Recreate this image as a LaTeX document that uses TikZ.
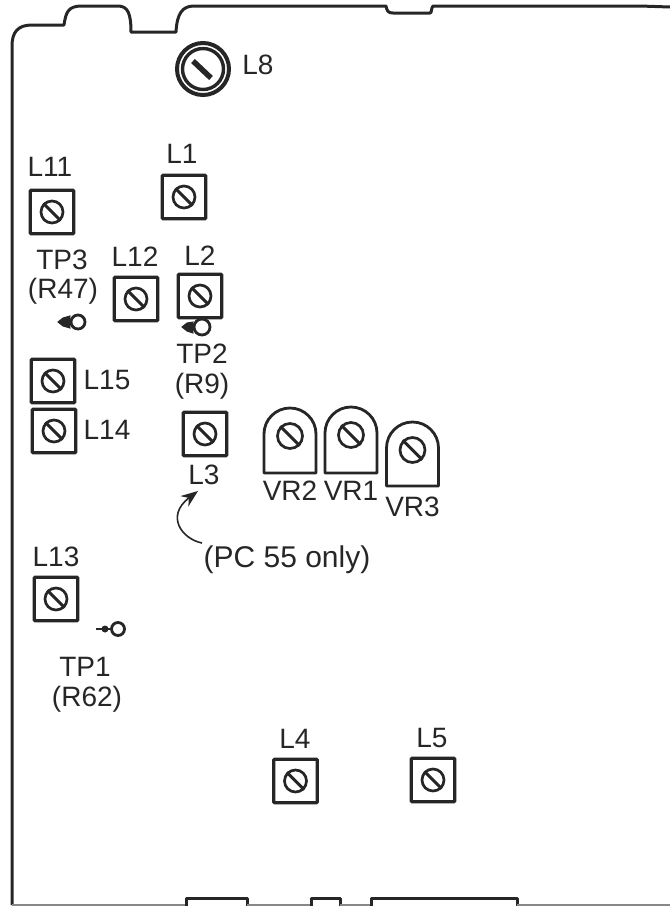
\documentclass[tikz,border=0pt]{standalone}
\usepackage{fontspec}
\setmainfont{Liberation Sans}
\usetikzlibrary{arrows.meta}
\definecolor{ink}{HTML}{262626}
\begin{document}
\begin{tikzpicture}[x=1pt,y=-1pt,
        board/.style={draw=ink, line width=3pt, line join=round},
        coilbox/.style={draw=ink, line width=3.4pt, rounded corners=1pt, minimum width=43.5pt, minimum height=43.5pt, inner sep=0pt},
        screw/.style={circle, draw=ink, line width=2.7pt, minimum size=22pt, inner sep=0pt},
        slot/.style={draw=ink, line width=3pt},
        pot/.style={draw=ink, line width=2.8pt, line join=round},
        ring/.style={circle, draw=ink, line width=2.8pt, inner sep=0pt},
        probe/.style={ink, fill=ink, line width=1pt},
        lbl/.style={text=ink, inner sep=0pt, font=\fontsize{28}{30}\selectfont},
        pcarrow/.style={draw=ink, line width=1.6pt, -{Stealth[length=17pt,width=13pt]}}]
        \useasboundingbox (0,0) rectangle (670,906);
        % board outline
        \draw[board] (12,905) -- (12,46) .. controls (12,32) and (18,25) .. (32,25) -- (64,25)
            .. controls (66,12) and (68,6) .. (82,6) -- (118,6) .. controls (128,6) and (131,14) .. (131,32)
            -- (176,32) .. controls (177,14) and (182,6) .. (194,6) -- (386,6)
            .. controls (387,11) and (388,13) .. (393,13) -- (430,13) .. controls (432,13) and (431,8) .. (433,6)
            -- (640,6) -- (670,7);
        \draw[board, line width=1.6pt, draw=ink!55] (12,905) -- (186,905);
        \draw[board] (186,906) -- (186,898) -- (247,898) -- (247,906);
        \draw[board, line width=1.6pt, draw=ink!55] (247,905) -- (311,905);
        \draw[board] (311,906) -- (311,898) -- (340,898) -- (340,906);
        \draw[board, line width=1.6pt, draw=ink!55] (340,905) -- (371,905);
        \draw[board] (371,906) -- (371,898) -- (517,898) -- (517,906);
        \draw[board, line width=1.6pt, draw=ink!55] (517,905) -- (670,905);
        % L8
        \node[circle, draw=ink, line width=4pt, minimum size=52pt, inner sep=0pt] (coilE) at (203,69) {};
        \node[circle, draw=ink, line width=3.4pt, minimum size=41pt, inner sep=0pt] (coilEin) at (203,69) {};
        \draw[slot, line width=5.5pt] (193,61) -- (211,78);
        \node[lbl] (labE) at (258,65) {L8};
        % coils
        \foreach \name/\x/\y in {A/184/197, K/52/212, M/136/299, B/200/296, P/53/381, O/54/431, C/205/434, N/56/599, D/295.5/781, F/433/780} {
            \node[coilbox] (coil\name) at (\x,\y) {};
            \node[screw] (screw\name) at (\x,\y) {};
            \draw[slot] (screw\name.135) -- (screw\name.-45);
        }
        \foreach \name/\x/\y/\txt in {A/182/154/L1, K/50/167/L11, M/135/257/L12, B/200/256/L2, P/107/380/L15, O/107/430/L14, C/204/475/L3, N/56/557/L13, D/295/739/L4, F/432/738/L5} {
            \node[lbl] (lab\name) at (\x,\y) {\txt};
        }
        % trimmers
        \foreach \name/\x/\y/\ytop/\ybot/\txt/\ylab in {two/290/434/408/473/VR2/491, one/351/434/407/473/VR1/491, three/412.5/448/422/486/VR3/507} {
            \draw[pot] (\x-26,\ybot) -- (\x-26,\ytop+26) arc[start angle=180, end angle=0, x radius=26, y radius=-26] -- (\x+26,\ybot) -- cycle;
            \node[screw, minimum size=25pt] (vr\name) at (\x,\ytop+28) {};
            \draw[slot] (vr\name.135) -- (vr\name.-45);
            \node[lbl] (vrlab\name) at (\x,\ylab) {\txt};
        }
        % test points
        \node[ring, minimum size=14pt] (tpC) at (78,322) {};
        \node[ring, minimum size=16pt] (tpB) at (202,327) {};
        \node[ring, minimum size=13pt] (tpA) at (118,629) {};
        \draw[probe] (58,322) -- (63,318) -- (70,316) -- (tpC.west) -- (70,328) -- (63,326) -- cycle;
        \draw[probe] (182,327) -- (187,323) -- (193,322) -- (tpB.west) -- (193,333) -- (187,331) -- cycle;
        \draw[ink, line width=2pt] (96,629) -- (tpA.west);
        \fill[ink] (105,629) circle (3.5pt);
        \node[lbl] (tpClab) at (62,260) {TP3};
        \node[lbl] (tpCval) at (63,291) {(R47)};
        \node[lbl] (tpBlab) at (202,354) {TP2};
        \node[lbl] (tpBval) at (202,386) {(R9)};
        \node[lbl] (tpAlab) at (85,667) {TP1};
        \node[lbl] (tpAval) at (87,699) {(R62)};
        % note
        \node[lbl, font=\fontsize{30}{32}\selectfont] (note) at (287,560) {(PC 55 only)};
        \coordinate (noteend) at (202,543);
        \coordinate (noteup) at (198,491);
        \draw[pcarrow] (noteend) .. controls (182,539) and (165,516) .. (noteup);
\end{tikzpicture}
\end{document}
